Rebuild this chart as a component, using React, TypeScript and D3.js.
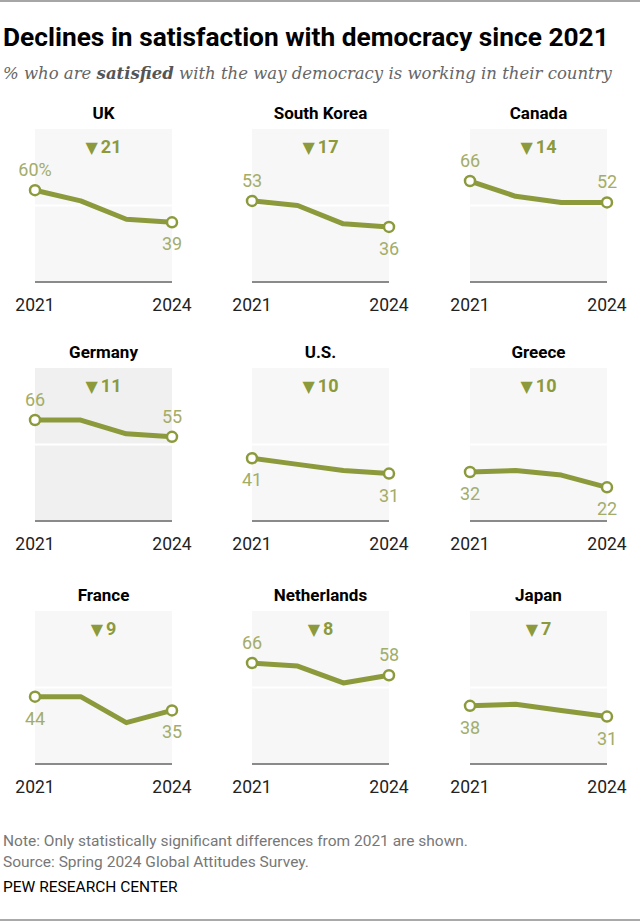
import React from "react";
import * as d3 from "d3";

const years = [2021, 2022, 2023, 2024];
const countries = ["UK", "South Korea", "Canada", "Germany", "U.S.", "Greece", "France", "Netherlands", "Japan"];
const ukValues = [60, 53, 41, 39];
const southKoreaValues = [53, 50, 38, 36];
const canadaValues = [66, 56, 52, 52];
const germanyValues = [66, 66, 57, 55];
const usValues = [41, 37, 33, 31];
const greeceValues = [32, 33, 30, 22];
const franceValues = [44, 44, 27, 35];
const netherlandsValues = [66, 64, 53, 58];
const japanValues = [38, 39, 35, 31];
const seriesValues = [ukValues, southKoreaValues, canadaValues, germanyValues, usValues, greeceValues, franceValues, netherlandsValues, japanValues];
const changes = [21, 17, 14, 11, 10, 10, 9, 8, 7];
// label placement: true = above point
const startAbove = [true, true, true, true, false, false, false, true, false];
const endAbove = [false, false, true, true, false, false, false, true, false];
const yTicks = [50];

const W = 640;
const H = 923;
const colX = [35, 252, 470];
const rowY = [129, 368, 611];
const panelW = 137;
const panelH = 153;

const lineColor = "#8c9a3c";
const labelColor = "#a3ad6a";
const sans = "'Roboto', 'Liberation Sans', sans-serif";
const serif = "'DejaVu Serif', 'Liberation Serif', serif";

function Panel({ i }: { i: number }) {
  const col = i % 3;
  const row = Math.floor(i / 3);
  const x0 = colX[col];
  const y0 = rowY[row];
  const values = seriesValues[i];
  const x = d3.scalePoint<number>().domain(years).range([0, panelW]);
  const y = d3.scaleLinear().domain([0, 100]).range([panelH, 0]);
  const line = d3
    .line<number>()
    .x((_, j) => x(years[j]) as number)
    .y((d) => y(d));
  const last = values.length - 1;
  const bg = countries[i] === "Germany" ? "#f0f0f0" : "#f7f7f7";
  return (
    <g transform={`translate(${x0},${y0})`}>
      <text x={panelW / 2} y={-10} textAnchor="middle" fontFamily={sans} fontWeight="bold" fontSize={17} fill="#000">
        {countries[i]}
      </text>
      <rect x={0} y={0} width={panelW} height={panelH} fill={bg} />
      {yTicks.map((t) => (
        <line key={t} x1={0} x2={panelW} y1={y(t)} y2={y(t)} stroke="#fff" strokeWidth={2} />
      ))}
      <line x1={0} x2={panelW} y1={panelH} y2={panelH} stroke="#8a8a8a" strokeWidth={2} />
      <text x={panelW / 2} y={24} textAnchor="middle" fontFamily={sans} fontWeight="bold" fontSize={18} fill={lineColor}>
        <tspan fontFamily="'DejaVu Sans', sans-serif" fontSize={16} fontWeight="normal">▼</tspan>
        <tspan dx={3}>{changes[i]}</tspan>
      </text>
      <path d={line(values) || ""} fill="none" stroke={lineColor} strokeWidth={5} strokeLinejoin="round" strokeLinecap="round" />
      {[0, last].map((j) => (
        <circle key={j} cx={x(years[j])} cy={y(values[j])} r={5} fill="#fff" stroke={lineColor} strokeWidth={2.5} />
      ))}
      <text
        x={x(years[0])}
        y={y(values[0]) + (startAbove[i] ? -14 : 28)}
        textAnchor="middle"
        fontFamily={sans}
        fontSize={18}
        fill={labelColor}
      >
        {values[0]}
        {i === 0 ? "%" : ""}
      </text>
      <text
        x={x(years[last])}
        y={y(values[last]) + (endAbove[i] ? -14 : 28)}
        textAnchor="middle"
        fontFamily={sans}
        fontSize={18}
        fill={labelColor}
      >
        {values[last]}
      </text>
      {[years[0], years[last]].map((yr) => (
        <text key={yr} x={x(yr)} y={panelH + 29} textAnchor="middle" fontFamily={sans} fontSize={17.5} fill="#222">
          {yr}
        </text>
      ))}
    </g>
  );
}

export default function App() {
  return (
    <svg width={W} height={H} style={{ position: "absolute", left: 0, top: 0, background: "#fff" }}>
      <rect x={0} y={0} width={W} height={H} fill="#fff" />
      <line x1={0} x2={W} y1={1} y2={1} stroke="#888" strokeWidth={1.5} />
      <text x={3} y={46} fontFamily={sans} fontWeight="bold" fontSize={26.3} fill="#000">
        Declines in satisfaction with democracy since 2021
      </text>
      <text x={3} y={79} fontFamily={serif} fontStyle="italic" fontSize={16.5} fill="#666">
        % who are <tspan fontWeight="bold" fill="#555">satisfied</tspan> with the way democracy is working in their country
      </text>
      {countries.map((_, i) => (
        <Panel key={i} i={i} />
      ))}
      <text x={3} y={846} fontFamily={sans} fontSize={15.5} fill="#777">
        Note: Only statistically significant differences from 2021 are shown.
      </text>
      <text x={3} y={867} fontFamily={sans} fontSize={15.5} fill="#777">
        Source: Spring 2024 Global Attitudes Survey.
      </text>
      <text x={3} y={892} fontFamily={sans} fontSize={15.5} fill="#000">
        PEW RESEARCH CENTER
      </text>
      <line x1={0} x2={W} y1={920} y2={920} stroke="#555" strokeWidth={1} />
    </svg>
  );
}
